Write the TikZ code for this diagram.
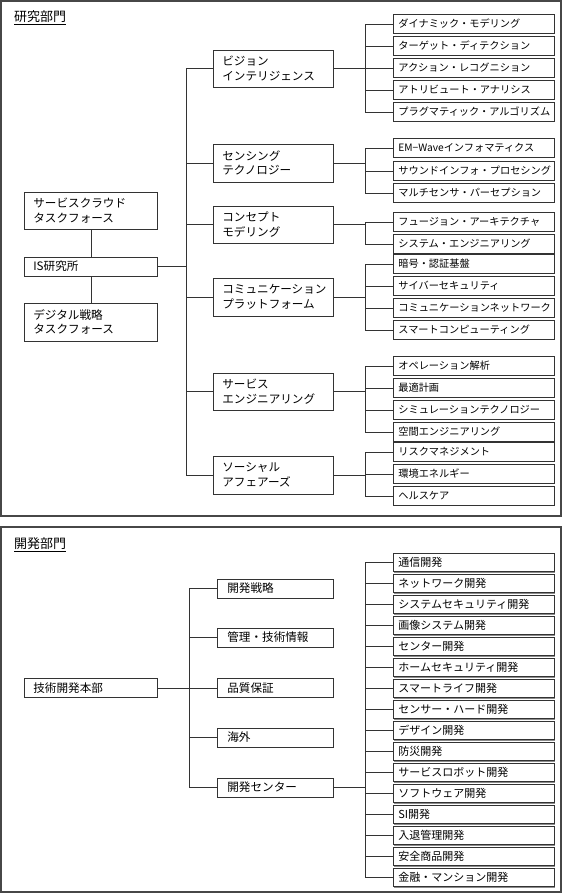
\documentclass[tikz,border=0pt]{standalone}
\usepackage{fontspec}
\setmainfont{Noto Sans CJK JP}
\usetikzlibrary{shadows}

\tikzset{
  unit/.style={draw=black!80, fill=white, line width=0.7pt, anchor=west, align=left, inner ysep=0pt,
    drop shadow={shadow xshift=0.9pt, shadow yshift=-0.9pt, fill=black!45, opacity=1}},
  head/.style={unit, text width=115pt, inner xsep=9pt, minimum height=19pt, font=\fontsize{11.6}{14.5}\selectfont},
  group/.style={unit, text width=102pt, inner xsep=9pt, minimum height=19pt, font=\fontsize{11.6}{14.5}\selectfont},
  subgroup/.style={unit, text width=96pt, inner xsep=10pt, minimum height=19pt, font=\fontsize{11.6}{14.5}\selectfont},
  leaf/.style={unit, text width=151pt, inner xsep=5pt, minimum height=19pt, font=\fontsize{10.2}{12}\selectfont},
  subleaf/.style={leaf, minimum height=18.5pt, font=\fontsize{11}{13}\selectfont},
  wire/.style={draw=black!80, line width=0.7pt},
  panel/.style={draw=black!72, line width=1.6pt},
  title/.style={anchor=west, inner sep=0pt, font=\fontsize{13}{15}\selectfont},
}

\begin{document}
\begin{tikzpicture}[x=1pt, y=-1pt]

\useasboundingbox (0,0) rectangle (562,893);
\draw[panel] (1,1) rectangle (561,516);
\draw[panel] (1,527) rectangle (561,892);

\coordinate (tr) at (186,0);
\coordinate (tb) at (189,0);
\coordinate (br) at (365,0);

\node[title] (t1) at (14,18) {\underline{研究部門}};
\node[title] (t2) at (14,545) {\underline{開発部門}};

\node[head, minimum height=37pt] (sc) at (24,210.5) {サービスクラウド\\タスクフォース};
\node[head] (is) at (24,266.5) {IS研究所};
\node[head, minimum height=38pt] (ds) at (24,322) {デジタル戦略\\タスクフォース};

\node[group, minimum height=37pt] (vi) at (213,68.5) {ビジョン\\インテリジェンス};
\node[group, minimum height=38pt] (se) at (213,163) {センシング\\テクノロジー};
\node[group, minimum height=37pt] (co) at (213,224.5) {コンセプト\\モデリング};
\node[group, minimum height=38pt] (cm) at (213,297) {コミュニケーション\\プラットフォーム};
\node[group, minimum height=37pt] (sv) at (213,391.5) {サービス\\エンジニアリング};
\node[group, minimum height=38pt] (so) at (213,475) {ソーシャル\\アフェアーズ};

\node[leaf] (v1) at (393,24) {ダイナミック・モデリング};
\node[leaf] (v2) at (393,46) {ターゲット・ディテクション};
\node[leaf] (v3) at (393,68) {アクション・レコグニション};
\node[leaf] (v4) at (393,90) {アトリビュート・アナリシス};
\node[leaf] (v5) at (393,112) {プラグマティック・アルゴリズム};
\node[leaf] (s1) at (393,148) {EM−Waveインフォマティクス};
\node[leaf] (s2) at (393,171) {サウンドインフォ・プロセシング};
\node[leaf] (s3) at (393,193) {マルチセンサ・パーセプション};
\node[leaf] (c1) at (393,222) {フュージョン・アーキテクチャ};
\node[leaf] (c2) at (393,244) {システム・エンジニアリング};
\node[leaf] (m1) at (393,264) {暗号・認証基盤};
\node[leaf] (m2) at (393,286) {サイバーセキュリティ};
\node[leaf] (m3) at (393,308) {コミュニケーションネットワーク};
\node[leaf] (m4) at (393,330) {スマートコンピューティング};
\node[leaf] (e1) at (393,366) {オペレーション解析};
\node[leaf] (e2) at (393,388) {最適計画};
\node[leaf] (e3) at (393,410) {シミュレーションテクノロジー};
\node[leaf] (e4) at (393,432) {空間エンジニアリング};
\node[leaf] (a1) at (393,452) {リスクマネジメント};
\node[leaf] (a2) at (393,474) {環境エネルギー};
\node[leaf] (a3) at (393,496) {ヘルスケア};

\draw[wire] (sc) -- (is) -- (ds);
\draw[wire] (is.east) -- (is.east -| tr);
\draw[wire] (vi.west) -- (vi.west -| tr) -- (so.west -| tr) -- (so.west);
\draw[wire] (se.west) -- (se.west -| tr);
\draw[wire] (co.west) -- (co.west -| tr);
\draw[wire] (cm.west) -- (cm.west -| tr);
\draw[wire] (sv.west) -- (sv.west -| tr);

\draw[wire] (vi.east) -- (vi.east -| br);
\draw[wire] (v1.west) -- (v1.west -| br) -- (v5.west -| br) -- (v5.west);
\draw[wire] (v2.west) -- (v2.west -| br);
\draw[wire] (v3.west) -- (v3.west -| br);
\draw[wire] (v4.west) -- (v4.west -| br);
\draw[wire] (se.east) -- (se.east -| br);
\draw[wire] (s1.west) -- (s1.west -| br) -- (s3.west -| br) -- (s3.west);
\draw[wire] (s2.west) -- (s2.west -| br);
\draw[wire] (co.east) -- (co.east -| br);
\draw[wire] (c1.west) -- (c1.west -| br) -- (c2.west -| br) -- (c2.west);
\draw[wire] (cm.east) -- (cm.east -| br);
\draw[wire] (m1.west) -- (m1.west -| br) -- (m4.west -| br) -- (m4.west);
\draw[wire] (m2.west) -- (m2.west -| br);
\draw[wire] (m3.west) -- (m3.west -| br);
\draw[wire] (sv.east) -- (sv.east -| br);
\draw[wire] (e1.west) -- (e1.west -| br) -- (e4.west -| br) -- (e4.west);
\draw[wire] (e2.west) -- (e2.west -| br);
\draw[wire] (e3.west) -- (e3.west -| br);
\draw[wire] (so.east) -- (so.east -| br);
\draw[wire] (a1.west) -- (a1.west -| br) -- (a3.west -| br) -- (a3.west);
\draw[wire] (a2.west) -- (a2.west -| br);

\node[head] (hq) at (24,688) {技術開発本部};

\node[subgroup] (st) at (217,588.5) {開発戦略};
\node[subgroup] (mg) at (217,637.5) {管理・技術情報};
\node[subgroup] (qa) at (217,688) {品質保証};
\node[subgroup] (ov) at (217,737.5) {海外};
\node[subgroup] (dc) at (217,787.5) {開発センター};

\node[subleaf] (d1) at (393,562.5) {通信開発};
\node[subleaf] (d2) at (393,583.5) {ネットワーク開発};
\node[subleaf] (d3) at (393,604.5) {システムセキュリティ開発};
\node[subleaf] (d4) at (393,625.5) {画像システム開発};
\node[subleaf] (d5) at (393,646.5) {センター開発};
\node[subleaf] (d6) at (393,667.5) {ホームセキュリティ開発};
\node[subleaf] (d7) at (393,688.5) {スマートライフ開発};
\node[subleaf] (d8) at (393,709.5) {センサー・ハード開発};
\node[subleaf] (d9) at (393,730.5) {デザイン開発};
\node[subleaf] (d10) at (393,751.5) {防災開発};
\node[subleaf] (d11) at (393,772.5) {サービスロボット開発};
\node[subleaf] (d12) at (393,793.5) {ソフトウェア開発};
\node[subleaf] (d13) at (393,814.5) {SI開発};
\node[subleaf] (d14) at (393,835.5) {入退管理開発};
\node[subleaf] (d15) at (393,856.5) {安全商品開発};
\node[subleaf] (d16) at (393,877.5) {金融・マンション開発};

\draw[wire] (hq.east) -- (hq.east -| tb);
\draw[wire] (st.west) -- (st.west -| tb) -- (dc.west -| tb) -- (dc.west);
\draw[wire] (mg.west) -- (mg.west -| tb);
\draw[wire] (qa.west) -- (qa.west -| tb);
\draw[wire] (ov.west) -- (ov.west -| tb);

\draw[wire] (dc.east) -- (dc.east -| br);
\draw[wire] (d1.west) -- (d1.west -| br) -- (d16.west -| br) -- (d16.west);
\draw[wire] (d2.west) -- (d2.west -| br);
\draw[wire] (d3.west) -- (d3.west -| br);
\draw[wire] (d4.west) -- (d4.west -| br);
\draw[wire] (d5.west) -- (d5.west -| br);
\draw[wire] (d6.west) -- (d6.west -| br);
\draw[wire] (d7.west) -- (d7.west -| br);
\draw[wire] (d8.west) -- (d8.west -| br);
\draw[wire] (d9.west) -- (d9.west -| br);
\draw[wire] (d10.west) -- (d10.west -| br);
\draw[wire] (d11.west) -- (d11.west -| br);
\draw[wire] (d12.west) -- (d12.west -| br);
\draw[wire] (d13.west) -- (d13.west -| br);
\draw[wire] (d14.west) -- (d14.west -| br);
\draw[wire] (d15.west) -- (d15.west -| br);

\end{tikzpicture}
\end{document}
